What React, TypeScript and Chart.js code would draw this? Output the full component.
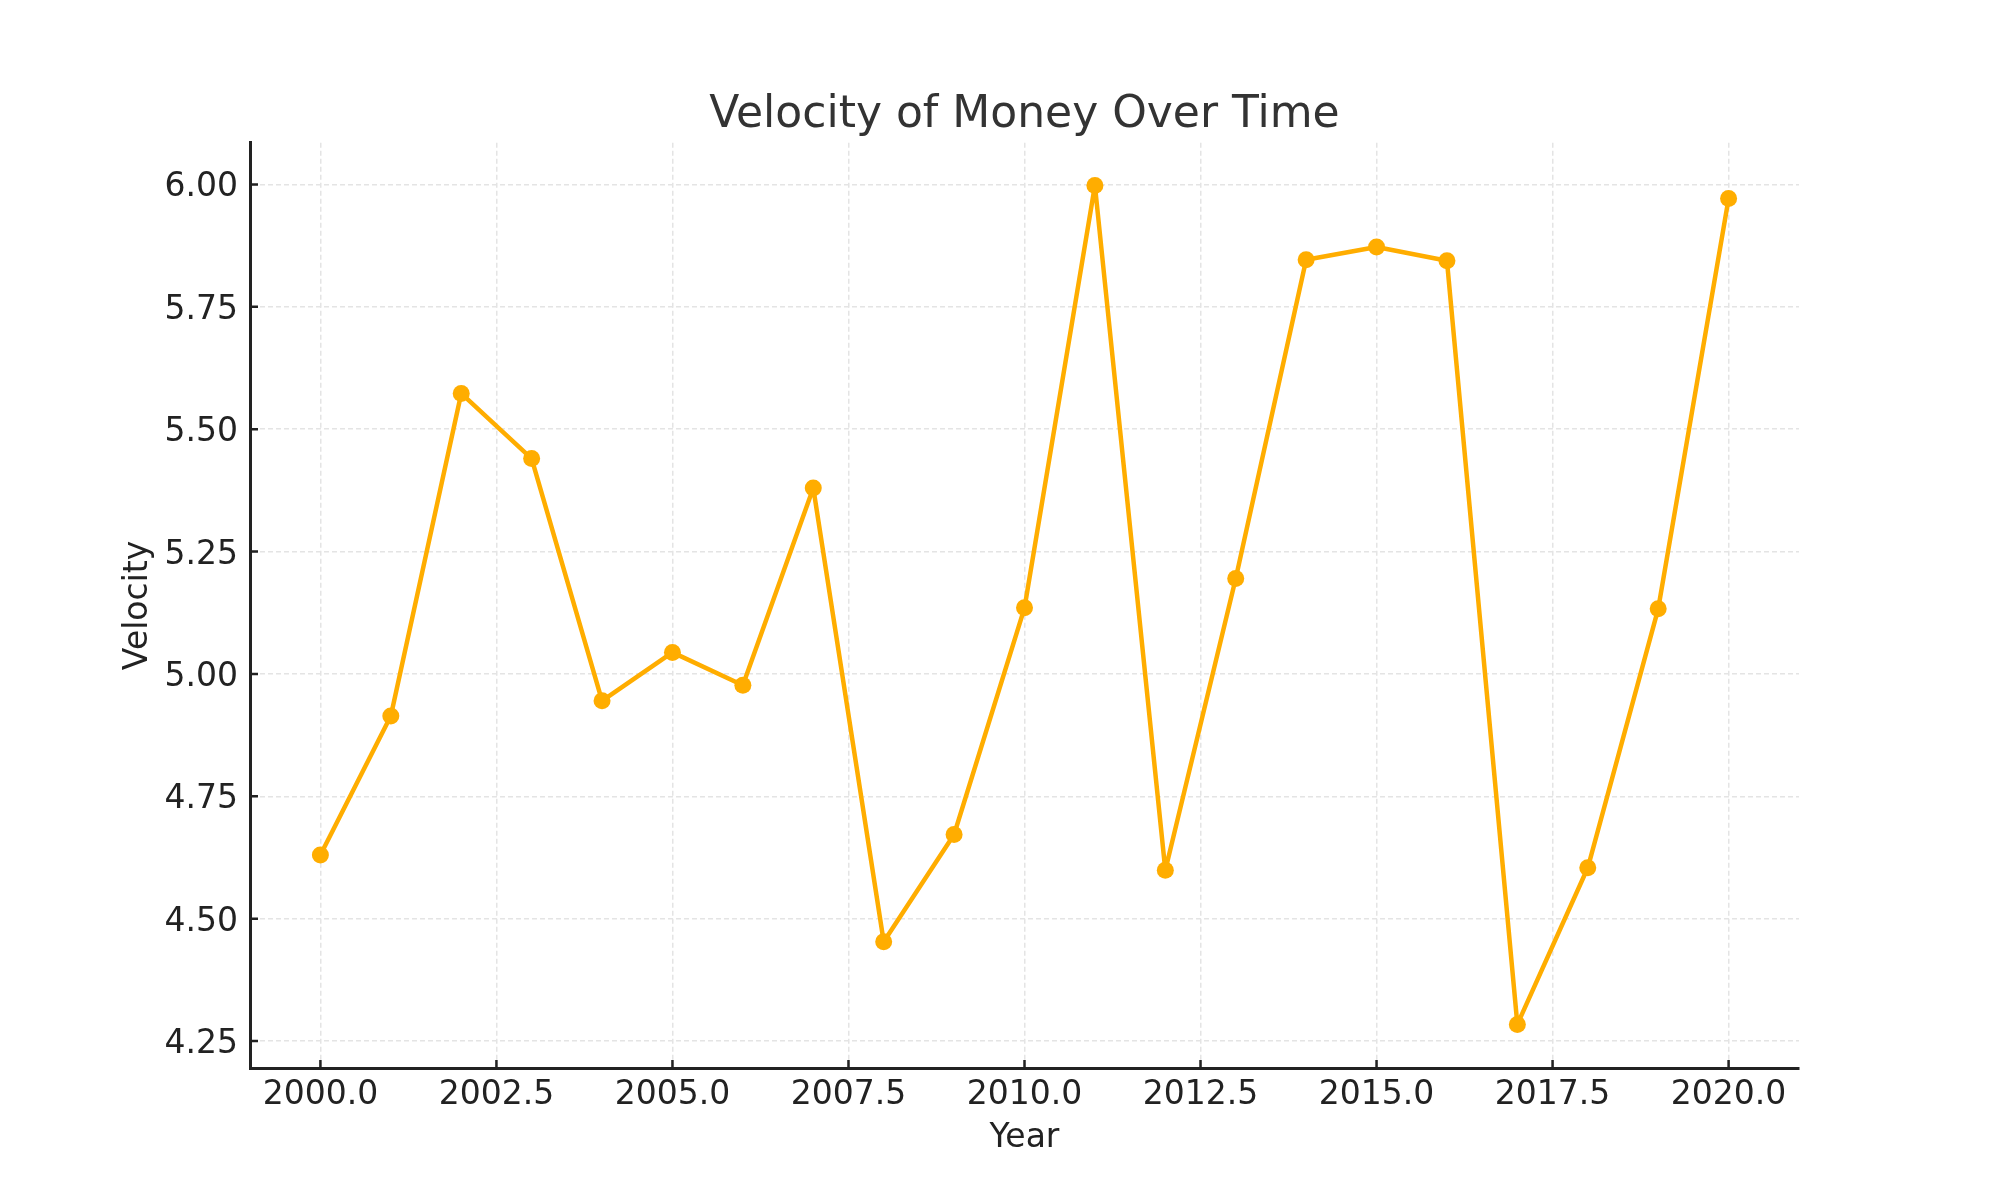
import { useEffect, useRef } from 'react';
import { Chart, registerables } from 'chart.js';

Chart.register(...registerables);

const years = [
  2000, 2001, 2002, 2003, 2004, 2005, 2006, 2007, 2008, 2009, 2010,
  2011, 2012, 2013, 2014, 2015, 2016, 2017, 2018, 2019, 2020,
];
const velocity = [
  4.63, 4.914, 5.573, 5.44, 4.945, 5.044, 4.977, 5.38, 4.453, 4.672, 5.135,
  5.998, 4.599, 5.195, 5.846, 5.872, 5.844, 4.284, 4.604, 5.133, 5.971,
];
const xTicks = [2000, 2002.5, 2005, 2007.5, 2010, 2012.5, 2015, 2017.5, 2020];
const yTicks = [4.25, 4.5, 4.75, 5.0, 5.25, 5.5, 5.75, 6.0];

const FONT = "'DejaVu Sans', sans-serif";
const LINE = '#FFAD00';

// matplotlib-style ticks pointing into the plot, title centred over the axes
const axesStyle = {
  id: 'axesStyle',
  afterLayout(chart: any) {
    const t = chart.titleBlock;
    if (t) {
      t.left = chart.chartArea.left;
      t.right = chart.chartArea.right;
      t.width = t.right - t.left;
    }
  },
  afterDatasetsDraw(chart: Chart) {
    const { ctx, chartArea, scales } = chart;
    ctx.save();
    ctx.strokeStyle = '#222';
    ctx.lineWidth = 2.5;
    ctx.beginPath();
    for (const v of yTicks) {
      const y = scales.y.getPixelForValue(v);
      ctx.moveTo(chartArea.left, y);
      ctx.lineTo(chartArea.left + 8, y);
    }
    for (const v of xTicks) {
      const x = scales.x.getPixelForValue(v);
      ctx.moveTo(x, chartArea.bottom);
      ctx.lineTo(x, chartArea.bottom - 8);
    }
    ctx.stroke();
    ctx.restore();
  },
};

export default function App() {
  const canvasRef = useRef<HTMLCanvasElement | null>(null);
  const chartRef = useRef<Chart | null>(null);

  useEffect(() => {
    const ctx = canvasRef.current?.getContext('2d');
    if (!ctx) return;
    if (chartRef.current) chartRef.current.destroy();

    chartRef.current = new Chart(ctx, {
      type: 'line',
      data: {
        datasets: [
          {
            label: 'Velocity',
            data: years.map((yr, i) => ({ x: yr, y: velocity[i] })),
            borderColor: LINE,
            backgroundColor: LINE,
            borderWidth: 4.5,
            borderJoinStyle: 'round',
            borderCapStyle: 'round',
            pointRadius: 8.5,
            pointBackgroundColor: LINE,
            pointBorderWidth: 0,
            tension: 0,
          },
        ],
      },
      plugins: [axesStyle],
      options: {
        animation: false,
        responsive: true,
        maintainAspectRatio: false,
        layout: { padding: { left: 0, right: 201, top: 88, bottom: 0 } },
        plugins: {
          legend: { display: false },
          tooltip: { enabled: false },
          title: {
            display: true,
            text: 'Velocity of Money Over Time',
            color: '#333',
            font: { family: FONT, size: 44, weight: 'normal' },
            padding: { top: 1, bottom: 1 },
          },
        },
        scales: {
          x: {
            type: 'linear',
            min: 1999,
            max: 2021,
            afterBuildTicks: (scale) => {
              scale.ticks = xTicks.map((v) => ({ value: v }));
            },
            afterFit: (scale) => {
              scale.height = 132;
            },
            grid: { color: '#e4e4e4', lineWidth: 1.5, drawTicks: false },
            border: { display: true, color: '#222', width: 3, dash: [5, 3] },
            ticks: {
              color: '#222',
              padding: 8,
              maxRotation: 0,
              font: { family: FONT, size: 33 },
              callback: (v) => Number(v).toFixed(1),
            },
            title: {
              display: true,
              text: 'Year',
              color: '#222',
              font: { family: FONT, size: 33 },
              padding: { top: 0, bottom: 42 },
            },
          },
          y: {
            type: 'linear',
            min: 4.195,
            max: 6.085,
            afterBuildTicks: (scale) => {
              scale.ticks = yTicks.map((v) => ({ value: v }));
            },
            afterFit: (scale) => {
              scale.width = 250;
            },
            grid: { color: '#e4e4e4', lineWidth: 1.5, drawTicks: false },
            border: { display: true, color: '#222', width: 3, dash: [5, 3] },
            ticks: {
              color: '#222',
              padding: 12,
              labelOffset: 3.5,
              font: { family: FONT, size: 33 },
              callback: (v) => Number(v).toFixed(2),
            },
            title: {
              display: true,
              text: 'Velocity',
              color: '#222',
              font: { family: FONT, size: 33 },
              padding: { top: 119, bottom: 0 },
            },
          },
        },
      },
    });

    return () => {
      if (chartRef.current) chartRef.current.destroy();
      chartRef.current = null;
    };
  }, []);

  return (
    <div style={{ position: 'fixed', left: 0, top: 0, width: 2000, height: 1200, background: '#fff' }}>
      <canvas ref={canvasRef} />
    </div>
  );
}
